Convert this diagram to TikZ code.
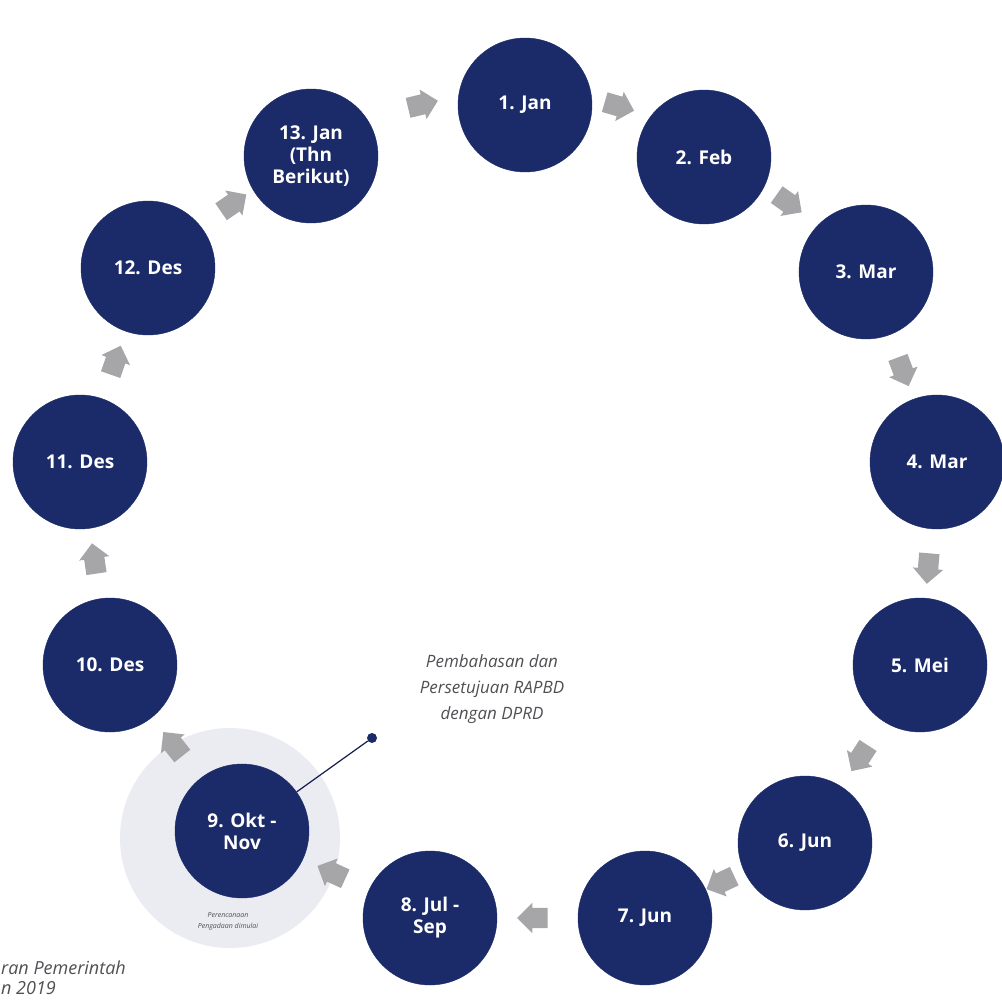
\documentclass[tikz,border=0pt]{standalone}
\usepackage{fontspec}
\setmainfont{Open Sans}
\usetikzlibrary{calc,shapes.arrows}

\definecolor{navy}{RGB}{27,42,104}
\definecolor{arrowgray}{RGB}{166,166,168}
\definecolor{halo}{RGB}{235,235,242}
\definecolor{capgray}{RGB}{80,80,84}

\tikzset{
  month/.style={circle,fill=navy,draw=navy,minimum size=134pt,inner sep=0pt,
    text=white,align=center,font=\fontsize{19}{22}\selectfont\bfseries},
  flow/.style={single arrow,fill=arrowgray,draw=none,minimum height=30pt,
    inner sep=10pt,single arrow head extend=5pt},
  note/.style={text=capgray,align=center,font=\fontsize{17}{26}\selectfont\itshape}
}

\begin{document}
\begin{tikzpicture}[x=1pt,y=1pt,yscale=-1,xscale=1]
\useasboundingbox (0,0) rectangle (1002,1001);

%Shape: Circle (halo round step 9)
\fill [halo] (230,838) circle (110);

% Month circles
\node [month] (n1) at (525,105) {1. Jan};
\node [month] (n2) at (704,157) {2. Feb};
\node [month] (n3) at (866,272) {3. Mar};
\node [month] (n4) at (937,462) {4. Mar};
\node [month] (n5) at (920,665) {5. Mei};
\node [month] (n6) at (805,843) {6. Jun};
\node [month] (n7) at (645,918) {7. Jun};
\node [month] (n8) at (430,918) {8. Jul -\\Sep};
\node [month] (n9) at (242,831) {9. Okt -\\Nov};
\node [month] (n10) at (110,665) {10. Des};
\node [month] (n11) at (80,462) {11. Des};
\node [month] (n12) at (148,268) {12. Des};
\node [month] (n13) at (311,156) {13. Jan\\(Thn\\Berikut)};

% Block arrows between the steps (\d = vertical nudge)
\foreach \a/\b/\d in {n13/n1/-25,n1/n2/-26,n2/n3/-14,n3/n4/0,n4/n5/0,n5/n6/0,n6/n7/0,
                      n7/n8/0,n8/n9/0,n9/n10/0,n10/n11/0,n11/n12/0,n12/n13/-6}
  \path let \p1=(\a.center), \p2=(\b.center), \n1={atan2(\y2-\y1,\x2-\x1)} in
    node [flow,rotate=-\n1] at ($($(\a.center)!0.5!(\b.center)$)+(0,\d)$) {};

% Callout of step 9
\node [circle,fill=navy,minimum size=10pt,inner sep=0pt] (dot) at (372,738) {};
\draw [navy!70!black,line width=1.2pt] (n9) -- (dot);
\node [note] (cap) at (492,689) {Pembahasan dan\\Persetujuan RAPBD\\dengan DPRD};

% Text Node
\node [text=capgray,align=center,font=\fontsize{7}{11}\selectfont\itshape] (sub) at (228,921) {Perencanaan\\Pengadaan dimulai};
% Text Node
\node [anchor=west,inner sep=1pt,text=capgray,align=left,font=\fontsize{18}{20}\selectfont\itshape] (src) at (0,978) {ran Pemerintah\\n 2019};

\end{tikzpicture}
\end{document}
